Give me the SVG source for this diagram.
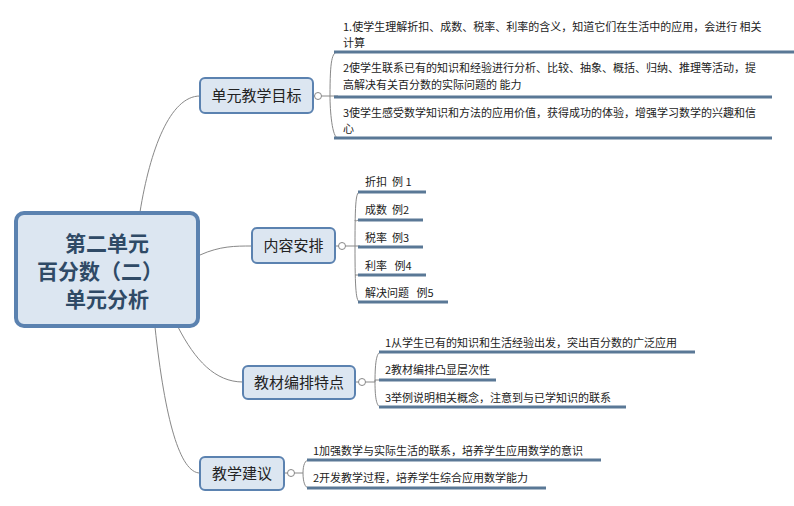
<svg xmlns="http://www.w3.org/2000/svg" width="794" height="506" viewBox="0 0 794 506">
<style>
.n{fill:#dce6f1;stroke:#5b82b0;stroke-width:2}
.nt{font-family:"Noto Sans CJK SC",sans-serif;font-size:15px;fill:#222;text-anchor:middle}
.t{font-family:"Noto Sans CJK SC",sans-serif;font-size:11px;fill:#222;white-space:pre}
.u{stroke:#5a7896;stroke-width:3;fill:none}
.c{stroke:#888;stroke-width:1;fill:none}
.o{fill:#fff;stroke:#888;stroke-width:1}
</style>
<rect width="794" height="506" fill="#fff"/>
<g id="connectors">
<path class="c" d="M140 212 C150 150,170 96,200 96"/>
<path class="c" d="M200 255 C220 246,235 246,252 246"/>
<path class="c" d="M178 327 C195 360,215 382,243 382"/>
<path class="c" d="M155 327 C165 420,180 473,200 473"/>
<path class="c" d="M313 96H330M330 96C330 60,332 52,338 52M330 96C330 110,332 138,338 138M330 96H338"/>
<path class="c" d="M335 246H355M355 246C355 200,356 192,360 192M355 246C355 290,356 302,360 302M355 220C355 222,357 220,360 220M355 246H360M355 275H360"/>
<path class="c" d="M355 382H375M375 382C375 360,377 352,381 352M375 382C375 400,377 407,381 407M375 382V380H381"/>
<path class="c" d="M284 473H303M303 473C303 465,305 460,309 460M303 473C303 482,305 488,309 488"/>
<circle class="o" cx="318" cy="96" r="3.5"/>
<circle class="o" cx="342" cy="246" r="3.5"/>
<circle class="o" cx="362" cy="382" r="3.5"/>
<circle class="o" cx="291" cy="473" r="3.5"/>
</g>
<g id="center">
<rect x="16" y="213" width="182" height="113" rx="8" fill="#dce6f1" stroke="#5b82b0" stroke-width="4"/>
<g font-family="Noto Sans CJK SC,sans-serif" font-size="21" font-weight="bold" fill="#2f4a66" text-anchor="middle">
<text x="107" y="251">第二单元</text>
<text x="100" y="279">百分数（二）</text>
<text x="107" y="307">单元分析</text>
</g>
</g>
<g id="goal">
<rect class="n" x="200" y="78" width="113" height="35" rx="5"/>
<text class="nt" x="256.5" y="101">单元教学目标</text>
<text class="t" x="343" y="31">1.使学生理解折扣、成数、税率、利率的含义，知道它们在生活中的应用，会进行 相关</text>
<text class="t" x="343" y="47">计算</text>
<path class="u" d="M334 52H794"/>
<text class="t" x="343" y="72">2使学生联系已有的知识和经验进行分析、比较、抽象、概括、归纳、推理等活动，提</text>
<text class="t" x="343" y="89">高解决有关百分数的实际问题的 能力</text>
<path class="u" d="M334 97H772"/>
<text class="t" x="343" y="117">3使学生感受数学知识和方法的应用价值，获得成功的体验，增强学习数学的兴趣和信</text>
<text class="t" x="343" y="133">心</text>
<path class="u" d="M334 138H772"/>
</g>
<g id="content">
<rect class="n" x="252" y="228" width="83" height="35" rx="5"/>
<text class="nt" x="293.5" y="251">内容安排</text>
<text class="t" x="365" y="186">折扣  例 1</text><path class="u" d="M358 192H426"/>
<text class="t" x="365" y="214">成数  例2</text><path class="u" d="M358 220H423"/>
<text class="t" x="365" y="242">税率  例3</text><path class="u" d="M358 247H423"/>
<text class="t" x="365" y="270">利率   例4</text><path class="u" d="M358 275H426"/>
<text class="t" x="365" y="297">解决问题   例5</text><path class="u" d="M358 302H448"/>
</g>
<g id="feature">
<rect class="n" x="243" y="366" width="112" height="33" rx="5"/>
<text class="nt" x="299" y="388">教材编排特点</text>
<text class="t" x="385" y="347">1从学生已有的知识和生活经验出发，突出百分数的广泛应用</text><path class="u" d="M379 352H695"/>
<text class="t" x="385" y="374">2教材编排凸显层次性</text><path class="u" d="M379 380H496"/>
<text class="t" x="385" y="402">3举例说明相关概念，注意到与已学知识的联系</text><path class="u" d="M379 407H626"/>
</g>
<g id="advice">
<rect class="n" x="200" y="457" width="84" height="33" rx="5"/>
<text class="nt" x="242" y="479">教学建议</text>
<text class="t" x="313" y="455">1加强数学与实际生活的联系，培养学生应用数学的意识</text><path class="u" d="M307 460H601"/>
<text class="t" x="313" y="482">2开发教学过程，培养学生综合应用数学能力</text><path class="u" d="M307 488H546"/>
</g>
</svg>
